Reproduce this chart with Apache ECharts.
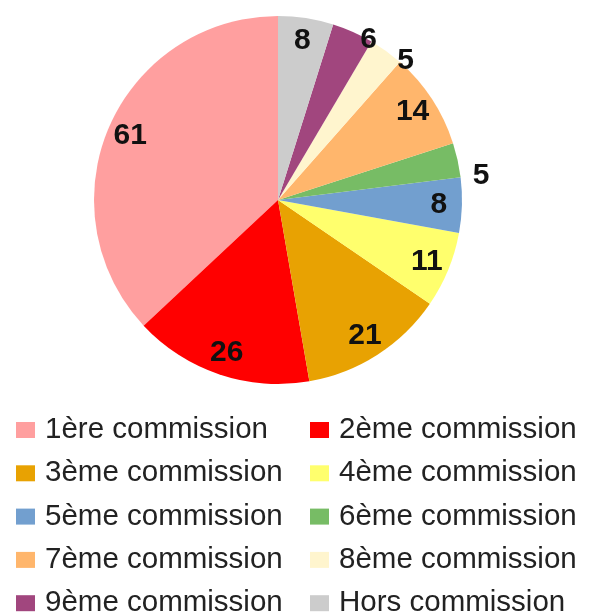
<!DOCTYPE html>
<html>
<head>
<meta charset="utf-8">
<script src="https://cdn.jsdelivr.net/npm/echarts@6/dist/echarts.min.js"></script>
<style>
  html, body { margin: 0; padding: 0; background: #fff; }
  #chart { width: 594px; height: 615px; }
</style>
</head>
<body>
<div id="chart"></div>
<script>
// commissions, in the pie's order (counterclockwise from 12 o'clock)
var names = ['1ère commission', '2ème commission', '3ème commission', '4ème commission', '5ème commission',
  '6ème commission', '7ème commission', '8ème commission', '9ème commission', 'Hors commission'];
var counts = [61, 26, 21, 11, 8, 5, 14, 5, 6, 8];
var colors = ['#ff9f9f', '#ff0000', '#e8a202', '#ffff6d', '#729fcf',
  '#77bc65', '#ffb66c', '#fff5ce', '#a1467e', '#cccccc'];

// small slices whose labels sit outside the pie
var labelShift = { 5: [46, 11], 7: [33, -9], 8: [25, -13] };

var myChart = echarts.init(document.getElementById('chart'));

var pieData = [];
var labelData = [];
for (var i = 0; i < names.length; i++) {
  pieData.push({ name: names[i], value: counts[i], itemStyle: { color: colors[i] } });
  var d = { name: names[i], value: counts[i] };
  if (labelShift[i]) {
    d.label = { offset: labelShift[i] };
  }
  labelData.push(d);
}

var legendText = {
  fontFamily: 'Liberation Sans',
  fontSize: 29.5,
  lineHeight: 30,
  color: '#222',
  padding: [0, 0, 0, 5]
};

var option = {
  backgroundColor: '#fff',
  animation: false,
  color: colors,
  legend: [
    {
      orient: 'vertical',
      left: 16,
      top: 415,
      width: 290,
      height: 260,
      padding: 0,
      icon: 'rect',
      itemWidth: 19,
      itemHeight: 16,
      itemGap: 13.3,
      data: [names[0], names[2], names[4], names[6], names[8]],
      textStyle: legendText
    },
    {
      orient: 'vertical',
      left: 310,
      top: 415,
      width: 284,
      height: 260,
      padding: 0,
      icon: 'rect',
      itemWidth: 19,
      itemHeight: 16,
      itemGap: 13.3,
      data: [names[1], names[3], names[5], names[7], names[9]],
      textStyle: legendText
    }
  ],
  series: [
    {
      name: 'Commissions',
      type: 'pie',
      center: [278, 200],
      radius: [0, 184],
      startAngle: 90,
      clockwise: false,
      label: { show: false },
      labelLine: { show: false },
      data: pieData
    },
    {
      // transparent ring used only to put the value labels near the rim
      name: 'Valeurs',
      type: 'pie',
      center: [278, 200],
      radius: [132, 184],
      startAngle: 90,
      clockwise: false,
      silent: true,
      legendHoverLink: false,
      itemStyle: { color: 'rgba(0,0,0,0)' },
      label: {
        show: true,
        position: 'inside',
        formatter: '{c}',
        fontFamily: 'Liberation Sans',
        fontWeight: 'bold',
        fontSize: 30,
        color: '#111'
      },
      labelLine: { show: false },
      data: labelData
    }
  ]
};
myChart.setOption(option);
</script>
</body>
</html>
